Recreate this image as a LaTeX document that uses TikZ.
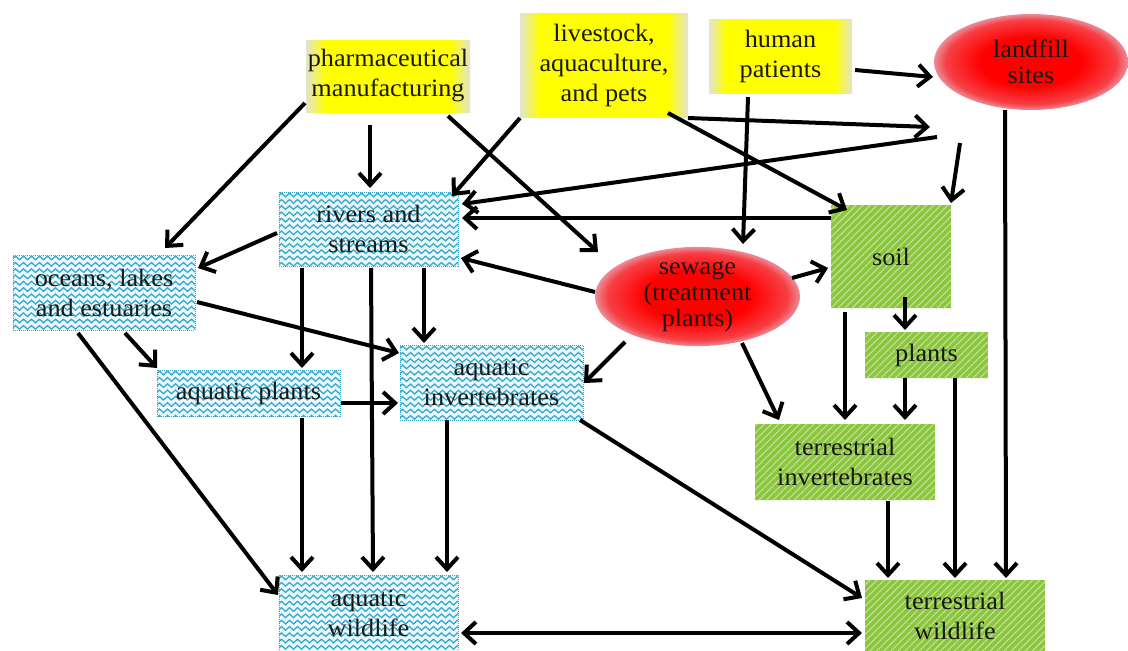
\documentclass[tikz,border=0pt]{standalone}
\usepackage{fontspec}
\setmainfont{Liberation Serif}[FakeStretch=1.05]
\usetikzlibrary{shapes.geometric,arrows.meta,calc,decorations.pathmorphing,patterns.meta}
\definecolor{tgreen}{RGB}{140,198,63}
\definecolor{wcol}{RGB}{56,170,204}
\definecolor{txt}{RGB}{25,25,20}
\definecolor{pinkedge}{RGB}{236,140,152}
\definecolor{yedge}{RGB}{226,228,204}
\pgfdeclareradialshading{redglow}{\pgfpoint{0bp}{0bp}}{color(0bp)=(red); color(13bp)=(red); color(22bp)=(red!55!pinkedge); color(25bp)=(pinkedge); color(50bp)=(pinkedge)}
\pgfdeclarehorizontalshading{yelh}{100bp}{color(0bp)=(yedge); color(25bp)=(yedge); color(31bp)=(yellow); color(69bp)=(yellow); color(75bp)=(yedge); color(100bp)=(yedge)}
\begin{document}
\begin{tikzpicture}[x=1pt,y=-1pt,
  base/.style={inner sep=0pt, align=center, text=txt, font=\fontsize{25}{30}\selectfont},
  src/.style={base, rectangle, shade, shading=yelh},
  waste/.style={base, ellipse, shade, shading=redglow, font=\fontsize{25}{26}\selectfont},
  aqua/.style={base, rectangle, fill=cyan!8, draw=wcol, densely dotted, line width=1pt,
    path picture={
      \foreach \k in {0,...,13}{
        \draw[wcol, solid, line width=1.3pt, decorate, decoration={snake,amplitude=1.8pt,segment length=8pt}]
          ([xshift=-8pt,yshift=-\k*6.3pt-3pt]path picture bounding box.north west) --
          ([xshift=8pt,yshift=-\k*6.3pt-3pt]path picture bounding box.north east);
      }}},
  terra/.style={base, rectangle, fill=tgreen,
    postaction={pattern={Lines[angle=45,distance=5pt,line width=0.9pt]}, pattern color=white!55!tgreen}},
  arr/.style={line width=4pt, -{Straight Barb[length=12pt,width=22pt]}},
  arrb/.style={line width=4pt, {Straight Barb[length=12pt,width=22pt]}-{Straight Barb[length=12pt,width=22pt]}}
]
\useasboundingbox (0,0) rectangle (1128,651);
\fill[white] (0,0) rectangle (1128,651);

% nodes
\node[src, minimum width=164pt, minimum height=72pt] (P) at (388,76) {pharmaceutical\\manufacturing};
\node[src, minimum width=168pt, minimum height=104pt] (L) at (604,65) {livestock,\\aquaculture,\\and pets};
\node[src, minimum width=143pt, minimum height=74pt] (H) at (780.5,56) {human\\patients};
\node[waste, minimum width=194pt, minimum height=96pt] (F) at (1031,62) {landfill\\sites};
\node[aqua, minimum width=179pt, minimum height=74pt] (R) at (368.5,229) {rivers and\\streams};
\node[aqua, minimum width=182pt, minimum height=75pt] (O) at (104,292.5) {oceans, lakes\\and estuaries};
\node[waste, minimum width=205pt, minimum height=97pt] (S) at (697.5,296.5) {sewage\\(treatment\\plants)};
\node[terra, minimum width=120pt, minimum height=103pt] (SO) at (891,256.5) {soil};
\node[terra, minimum width=123pt, minimum height=46pt] (PL) at (926.5,355) {plants};
\node[aqua, minimum width=183pt, minimum height=46pt] (AP) at (248.5,393) {aquatic plants};
\node[aqua, minimum width=183pt, minimum height=75pt] (AI) at (491.5,382.5) {aquatic\\invertebrates};
\node[terra, minimum width=180pt, minimum height=76pt] (TI) at (845,462) {terrestrial\\invertebrates};
\node[aqua, minimum width=179pt, minimum height=76pt] (AW) at (368.5,613) {aquatic\\wildlife};
\node[terra, minimum width=180pt, minimum height=71pt] (TW) at (955,615.5) {terrestrial\\wildlife};

\coordinate (c1) at (930,127);
\coordinate (c2) at (937,137);
\coordinate (c3) at (960,143);

% connectors
\draw[arr] ($(P)+(-83,27)$) -- ($(O)+(61,-44.5)$);
\draw[arr] ($(P)+(-18,49)$) -- ($(R)+(1.5,-41)$);
\draw[arr] ($(P)+(60,40)$) -- ($(S)+(-99.5,-44.5)$);
\draw[arr] ($(L)+(-84,53)$) -- ($(R)+(83.5,-33)$);
\draw[arr] ($(L)+(64,48)$) -- ($(SO)+(-44,-46.5)$);
\draw[arr] ($(L)+(84,53)$) -- (c1);
\draw[arr] (c2) -- ($(R)+(93.5,-25)$);
\draw[arr] (c3) -- ($(SO)+(60,-53.5)$);
\draw[arr] ($(H)+(74.5,14)$) -- ($(F)+(-98,15)$);
\draw[arr] ($(H)+(-32.5,41)$) -- ($(S)+(45.5,-52.5)$);
\draw[arr] ($(SO)+(-60,-38.5)$) -- ($(R)+(93.5,-11)$);
\draw[arr] ($(S)+(-102.5,-4.5)$) -- ($(R)+(92.5,29)$);
\draw[arr] ($(S)+(94.5,-18.5)$) -- ($(SO)+(-63,11.5)$);
\draw[arr] ($(S)+(-72.5,45.5)$) -- ($(AI)+(92.5,0.5)$);
\draw[arr] ($(S)+(44.5,46.5)$) -- ($(TI)+(-66,-42)$);
\draw[arr] ($(SO)+(-46,55.5)$) -- ($(TI)+(0,-42)$);
\draw[arr] ($(SO)+(14,40.5)$) -- ($(PL)+(-21.5,-25)$);
\draw[arr] ($(PL)+(-21.5,23)$) -- ($(TI)+(60,-42)$);
\draw[arr] ($(PL)+(28.5,23)$) -- ($(TW)+(0,-37.5)$);
\draw[arr] ($(TI)+(43,39)$) -- ($(TW)+(-67,-37.5)$);
\draw[arr] ($(F)+(-26,48)$) -- ($(TW)+(51,-37.5)$);
\draw[arr] ($(AI)+(88.5,37.5)$) -- ($(TW)+(-93,-17.5)$);
\draw[arrb] ($(AW)+(92.5,20)$) -- ($(TW)+(-93,17.5)$);
\draw[arr] ($(R)+(-91.5,4)$) -- ($(O)+(94,-24.5)$);
\draw[arr] ($(R)+(-66.5,39)$) -- ($(AP)+(53.5,-25)$);
\draw[arr] ($(R)+(2.5,39)$) -- ($(AW)+(4.5,-41)$);
\draw[arr] ($(R)+(55.5,39)$) -- ($(AI)+(-67.5,-39.5)$);
\draw[arr] ($(O)+(93,9.5)$) -- ($(AI)+(-92.5,-29.5)$);
\draw[arr] ($(O)+(21,40.5)$) -- ($(AP)+(-91.5,-25)$);
\draw[arr] ($(O)+(-26,40.5)$) -- ($(AW)+(-90.5,-18)$);
\draw[arr] ($(AP)+(92.5,10)$) -- ($(AI)+(-93.5,20.5)$);
\draw[arr] ($(AP)+(53.5,25)$) -- ($(AW)+(-66.5,-41)$);
\draw[arr] ($(AI)+(-44.5,37.5)$) -- ($(AW)+(78.5,-41)$);
\end{tikzpicture}
\end{document}
